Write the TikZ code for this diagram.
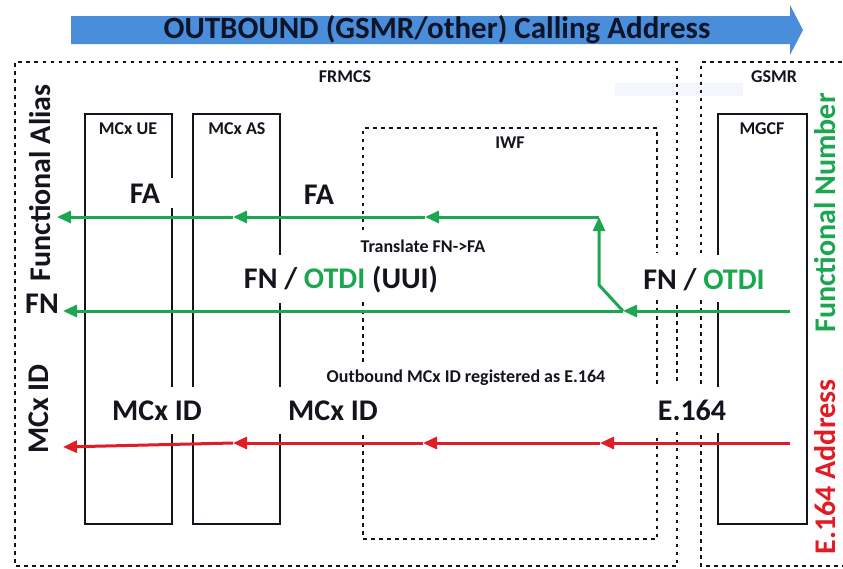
\documentclass[tikz,border=0pt]{standalone}
\usepackage{fontspec}
\setmainfont{Carlito}
\usetikzlibrary{arrows.meta}
\definecolor{arrowblue}{RGB}{74,141,218}
\definecolor{flowgreen}{RGB}{27,167,80}
\definecolor{flowred}{RGB}{226,28,36}
\definecolor{inkdark}{RGB}{20,20,28}
\definecolor{titleink}{RGB}{12,20,40}
\definecolor{ghostblue}{RGB}{243,247,253}
\begin{document}
\begin{tikzpicture}[x=1pt,y=-1pt,
  boxline/.style={line width=1.6pt, draw=inkdark},
  dotline/.style={line width=2pt, draw=inkdark, dash pattern=on 3.5pt off 4.5pt},
  tipg/.style={-{Triangle[length=14pt,width=12pt]}},
  gflow/.style={line width=3pt, draw=flowgreen},
  rflow/.style={line width=3pt, draw=flowred},
  biglabel/.style={font=\fontsize{30}{36}\selectfont\bfseries, text=inkdark, inner sep=0pt},
  smalllabel/.style={font=\fontsize{18}{22}\selectfont\bfseries, text=inkdark, inner sep=0pt},
  titletext/.style={font=\fontsize{31}{36}\selectfont\bfseries, text=titleink, inner sep=0pt}
]
\useasboundingbox (0,0) rectangle (843,568);
\fill[white] (0,0) rectangle (843,568);

% ---- top banner arrow
\fill[arrowblue] (71,16) -- (790,16) -- (790,5) -- (803,30) -- (790,55) -- (790,44) -- (71,44) -- cycle;
\node[titletext] (title) at (437,30) {OUTBOUND (GSMR/other) Calling Address};

% faint ghost box
\fill[ghostblue] (615,83) rectangle (743,96);

% ---- FRMCS dotted frame (x 15..677, y 62..566)
\draw[dotline] (677,255) -- (677,62) -- (15,62) -- (15,566) -- (677,566) -- (677,432);
\draw[dotline] (677,305) -- (677,383);
% ---- GSMR dotted frame
\draw[dotline] (701,253) -- (701,62) -- (845,62);
\draw[dotline] (701,300) -- (701,385);
\draw[dotline] (701,435) -- (701,566) -- (845,566);

% ---- IWF dotted box (x 363..657, y 128..539)
\draw[dotline] (363,230) -- (363,128) -- (657,128) -- (657,253);
\draw[dotline] (363,302) -- (363,363);
\draw[dotline] (657,300) -- (657,385);
\draw[dotline] (363,435) -- (363,539) -- (657,539) -- (657,435);

% ---- MCx UE box (x 85..172, y 114..524)
\draw[boxline] (172,178) -- (172,114) -- (85,114) -- (85,524) -- (172,524) -- (172,434);
\draw[boxline] (172,208) -- (172,387);
% ---- MCx AS box (x 193..280)
\draw[boxline] (193,387) -- (193,114) -- (280,114) -- (280,255);
\draw[boxline] (280,303) -- (280,387);
\draw[boxline] (193,434) -- (193,524) -- (280,524) -- (280,434);
% ---- MGCF box (x 718..807)
\draw[boxline] (718,255) -- (718,114) -- (807,114) -- (807,524) -- (718,524) -- (718,433);
\draw[boxline] (718,302) -- (718,387);

% ---- box titles
\node[smalllabel] (frmcs) at (345,77) {FRMCS};
\node[smalllabel] (gsmr) at (774,77) {GSMR};
\node[smalllabel] (mcxue) at (128,129) {MCx UE};
\node[smalllabel] (mcxas) at (237,129) {MCx AS};
\node[smalllabel] (iwf) at (510,143) {IWF};
\node[smalllabel] (mgcf) at (762,129) {MGCF};

% ---- green flows
\coordinate (fa0) at (599,217);
\coordinate (fa1) at (425,217);
\coordinate (fa2) at (233,217);
\coordinate (fa3) at (57,217);
\coordinate (fn0) at (790,311);
\coordinate (fn1) at (623,311);
\coordinate (fn2) at (63,311);
\coordinate (bend) at (599,285);
\draw[gflow,tipg] (fa0) -- (fa1);
\draw[gflow,tipg] (fa1) -- (fa2);
\draw[gflow,tipg] (fa2) -- (fa3);
\draw[gflow,tipg] (fn0) -- (fn1);
\draw[gflow,tipg] (fn1) -- (fn2);
\draw[gflow,tipg,line join=round] (fn1) -- (bend) -- (fa0);

% ---- red flow
\coordinate (r0) at (790,443);
\coordinate (r1) at (600,443);
\coordinate (r2) at (423,443);
\coordinate (r3) at (233,443);
\coordinate (r4) at (63,447);
\draw[rflow,tipg] (r0) -- (r1);
\draw[rflow,tipg] (r1) -- (r2);
\draw[rflow,tipg] (r2) -- (r3);
\draw[rflow,tipg] (r3) -- (r4);

% ---- labels
\node[biglabel] (faue) at (145,194) {FA};
\node[biglabel] (faas) at (319,195) {FA};
\node[smalllabel] (transl) at (423,246) {Translate FN->FA};
\node[biglabel] (fnotdi) at (341,280) {FN / \textcolor{flowgreen}{OTDI} (UUI)};
\node[biglabel] (fnotdir) at (704,280) {FN / \textcolor{flowgreen}{OTDI}};
\node[biglabel] (fnleft) at (42,304) {FN};
\node[smalllabel] (outb) at (466,378) {Outbound MCx ID registered as E.164};
\node[biglabel] (mcxid1) at (157,411) {MCx ID};
\node[biglabel] (mcxid2) at (333,411) {MCx ID};
\node[biglabel] (e164) at (692,410) {E.164};

% ---- rotated side labels
\node[biglabel,rotate=90] (falias) at (40,183) {Functional Alias};
\node[biglabel,rotate=90] (mcxidside) at (39,409) {MCx ID};
\node[biglabel,rotate=90,text=flowgreen] (fnum) at (825,213) {Functional Number};
\node[biglabel,rotate=90,text=flowred] (eaddr) at (825,467) {E.164 Address};
\end{tikzpicture}
\end{document}
